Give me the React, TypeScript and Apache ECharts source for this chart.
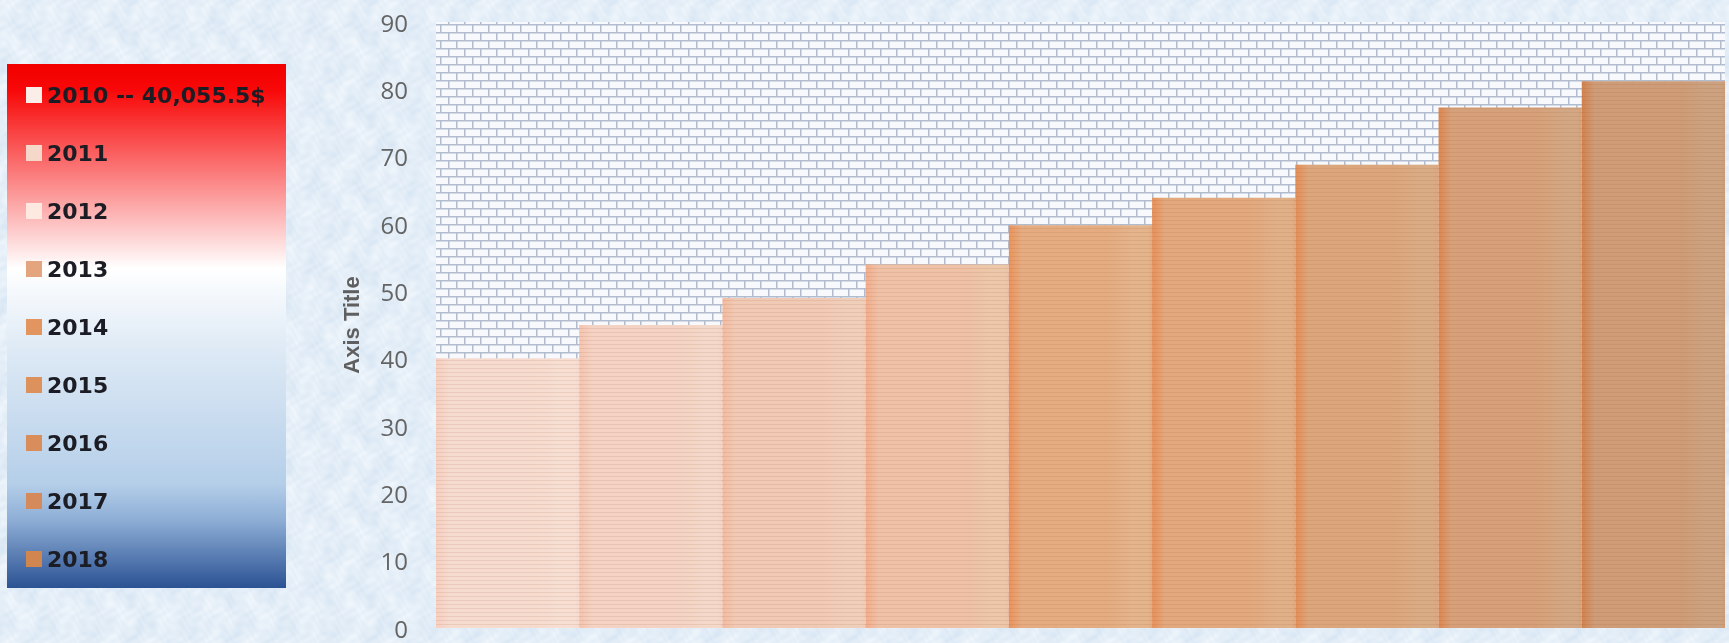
import React, { useEffect, useRef } from "react";
import * as echarts from "echarts";

// Categories and values (thousands of $)
const years = ["2010", "2011", "2012", "2013", "2014", "2015", "2016", "2017", "2018"];
const legendNames = ["2010 -- 40,055.5$", "2011", "2012", "2013", "2014", "2015", "2016", "2017", "2018"];
const values = [40.0555, 45, 49, 54, 59.8, 63.9, 68.8, 77.3, 81.2];

// Value axis range
const yMin = 0;
const yMax = 90;
const yInterval = 10;

// Bar palette: body, left edge band, lighter right band, legend marker
const bodyColors = ["#f6dbcf", "#f4d3c4", "#f1cab6", "#efc1a7", "#e5ac82", "#e2a97e", "#dca67c", "#d6a17a", "#ce9c77"];
const edgeColors = ["#f7cfc0", "#f5c3ae", "#f3baa0", "#f2ad8b", "#ea935b", "#e98f58", "#e58c55", "#dd8650", "#d2824e"];
const lightColors = ["#f7dfd3", "#f4d8c9", "#efcfba", "#ecc7a9", "#e4b48c", "#e0b089", "#d9ac86", "#d3a783", "#cca280"];
const markerColors = ["#fbeee8", "#f6d8cb", "#fde9e0", "#e3a47e", "#e39560", "#dd915c", "#d98d5b", "#d48a5a", "#d2864f"];

function brickTile(): string {
  const c = document.createElement("canvas");
  c.width = 16;
  c.height = 16;
  const g = c.getContext("2d")!;
  g.fillStyle = "#f7f9fc";
  g.fillRect(0, 0, 16, 16);
  g.strokeStyle = "#b2bccf";
  g.lineWidth = 1.5;
  g.beginPath();
  g.moveTo(0, 0.75);
  g.lineTo(16, 0.75);
  g.moveTo(0, 8.75);
  g.lineTo(16, 8.75);
  g.moveTo(0.75, 0);
  g.lineTo(0.75, 8.75);
  g.moveTo(8.75, 8.75);
  g.lineTo(8.75, 16);
  g.stroke();
  return c.toDataURL();
}

// Seamless mottled light blue texture for the page background
function marbleTile(size: number): string {
  const c = document.createElement("canvas");
  c.width = size;
  c.height = size;
  const g = c.getContext("2d")!;
  const img = g.createImageData(size, size);
  const f = (2 * Math.PI) / size;
  const a = [0xd6, 0xe5, 0xf3];
  const b = [0xf2, 0xf7, 0xfc];
  for (let y = 0; y < size; y++) {
    for (let x = 0; x < size; x++) {
      let v =
        0.5 +
        0.14 * Math.sin(5 * f * x + 1.8 * Math.sin(3 * f * y)) +
        0.12 * Math.sin(6 * f * y + 1.5 * Math.sin(7 * f * x)) +
        0.1 * Math.sin(17 * f * x + 13 * f * y + 2 * Math.sin(9 * f * y)) +
        0.08 * Math.sin(23 * f * y - 19 * f * x + 2.4 * Math.sin(11 * f * x));
      v = Math.max(0, Math.min(1, v));
      const i = (y * size + x) * 4;
      img.data[i] = a[0] + (b[0] - a[0]) * v;
      img.data[i + 1] = a[1] + (b[1] - a[1]) * v;
      img.data[i + 2] = a[2] + (b[2] - a[2]) * v;
      img.data[i + 3] = 255;
    }
  }
  g.putImageData(img, 0, 0);
  return c.toDataURL();
}

const W = 1729;
const H = 643;

export default function App() {
  const ref = useRef<HTMLDivElement>(null);

  useEffect(() => {
    const chart = echarts.init(ref.current!, null, { renderer: "svg" });

    const stripes = {
      symbol: "rect",
      symbolSize: 1,
      dashArrayX: [1, 0],
      dashArrayY: [1, 3],
      rotation: 0,
      color: "rgba(150, 85, 45, 0.12)",
    };

    const series = legendNames.map((name, i) => ({
      name,
      type: "bar",
      stack: "years",
      barCategoryGap: 0,
      data: years.map((_, j) => (j === i ? values[i] : "-")),
      itemStyle: {
        color: new echarts.graphic.LinearGradient(0, 0, 1, 0, [
          { offset: 0, color: edgeColors[i] },
          { offset: 0.09, color: bodyColors[i] },
          { offset: 0.7, color: bodyColors[i] },
          { offset: 0.86, color: lightColors[i] },
          { offset: 0.97, color: lightColors[i] },
          { offset: 1, color: bodyColors[i] },
        ]),
        decal: stripes,
      },
    }));

    chart.setOption({
      animation: false,
      graphic: [
        {
          type: "rect",
          z: -10,
          shape: { x: 0, y: 0, width: W, height: H },
          style: {
            fill: { image: marbleTile(240), repeat: "repeat", imageWidth: 240, imageHeight: 240 },
          },
          silent: true,
        },
        {
          type: "rect",
          z: -5,
          shape: { x: 7, y: 64, width: 279, height: 524 },
          style: {
            fill: new echarts.graphic.LinearGradient(0, 0, 0, 1, [
              { offset: 0, color: "#f20000" },
              { offset: 0.05, color: "#f80808" },
              { offset: 0.39, color: "#ffffff" },
              { offset: 0.55, color: "#dde9f5" },
              { offset: 0.8, color: "#b5cfe9" },
              { offset: 0.87, color: "#8eaed6" },
              { offset: 1, color: "#2b5293" },
            ]),
          },
          silent: true,
        },
      ],
      legend: {
        orient: "vertical",
        left: 26,
        top: 84,
        padding: 0,
        itemGap: 36,
        itemWidth: 16,
        itemHeight: 16,
        icon: "rect",
        selectedMode: false,
        itemStyle: { decal: "none" },
        textStyle: {
          fontFamily: "DejaVu Sans",
          fontWeight: "bold",
          fontSize: 22,
          color: "#1c1c24",
        },
        data: legendNames.map((name, i) => ({ name, itemStyle: { color: markerColors[i] } })),
      },
      grid: {
        left: 436,
        right: 4,
        top: 22,
        bottom: 15,
        show: true,
        borderWidth: 0,
        backgroundColor: { image: brickTile(), repeat: "repeat", imageWidth: 16, imageHeight: 16 },
      },
      xAxis: {
        type: "category",
        data: years,
        axisLine: { show: false },
        axisTick: { show: false },
        axisLabel: { show: false },
        splitLine: { show: false },
      },
      yAxis: {
        type: "value",
        min: yMin,
        max: yMax,
        interval: yInterval,
        name: "Axis Title",
        nameLocation: "middle",
        nameGap: 74,
        nameRotate: 90,
        nameTextStyle: {
          fontFamily: "Liberation Sans",
          fontWeight: "bold",
          fontSize: 22,
          color: "#5f5f5f",
        },
        axisLine: { show: false },
        axisTick: { show: false },
        splitLine: { show: false },
        axisLabel: {
          margin: 28,
          fontFamily: "Open Sans",
          fontSize: 24,
          color: "#646464",
        },
      },
      series,
    });

    return () => chart.dispose();
  }, []);

  return <div ref={ref} style={{ position: "fixed", left: 0, top: 0, width: W, height: H }} />;
}
